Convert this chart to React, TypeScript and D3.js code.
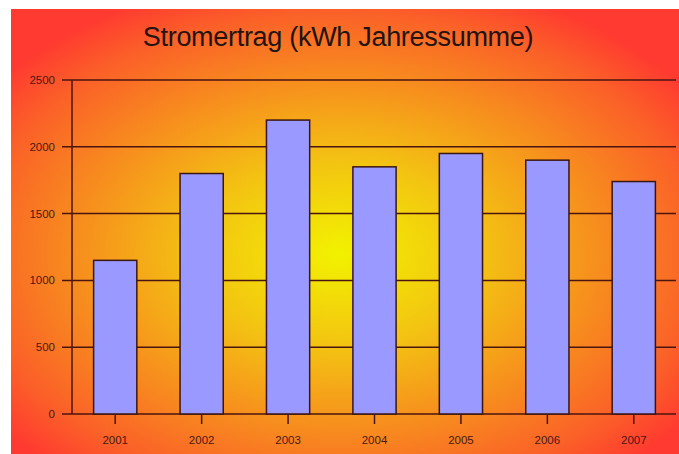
import React from "react";
import * as d3 from "d3";

const years = ["2001", "2002", "2003", "2004", "2005", "2006", "2007"];
const values = [1150, 1800, 2200, 1850, 1950, 1900, 1740];
const yTicks = [0, 500, 1000, 1500, 2000, 2500];
const title = "Stromertrag (kWh Jahressumme)";

export default function App() {
  const W = 679, H = 454;
  const x = d3.scaleBand<string>().domain(years).range([72, 677]).paddingInner(0.5).paddingOuter(0.25);
  const y = d3.scaleLinear().domain([0, 2500]).range([414, 80]);
  const axisCol = "#4a1410";
  const textCol = "#4a1812";
  return (
    <svg width={W} height={H} style={{ position: "absolute", left: 0, top: 0 }}>
      <defs>
        <radialGradient id="bg" cx="0.49" cy="0.55" r="0.64" fx="0.49" fy="0.55">
          <stop offset="0" stopColor="#f2f200" />
          <stop offset="0.32" stopColor="#f3c412" />
          <stop offset="0.62" stopColor="#f78c1e" />
          <stop offset="0.85" stopColor="#fb6028" />
          <stop offset="1" stopColor="#ff3a30" />
        </radialGradient>
      </defs>
      <rect x={0} y={0} width={W} height={H} fill="#fff" />
      <rect x={11} y={9} width={W - 11} height={H - 9} fill="url(#bg)" />
      <text x={338} y={46} textAnchor="middle" fontFamily="Liberation Sans, Arial, sans-serif" fontSize={27} fill="#221410" style={{ letterSpacing: "-0.3px" }}>{title}</text>
      {yTicks.map((t) => (
        <g key={t}>
          <line x1={62} x2={676} y1={y(t)} y2={y(t)} stroke={axisCol} strokeWidth={1.5} />
          <text x={55} y={y(t) + 4} textAnchor="end" fontFamily="Liberation Sans, Arial, sans-serif" fontSize={11.5} fill={textCol}>{t}</text>
        </g>
      ))}
      <line x1={72} x2={72} y1={y(2500)} y2={y(0)} stroke={axisCol} strokeWidth={1.5} />
      {years.map((yr, i) => (
        <g key={yr}>
          <rect x={x(yr)} y={y(values[i])} width={x.bandwidth()} height={y(0) - y(values[i])} fill="#9999ff" stroke="#3a1612" strokeWidth={1.5} />
          <line x1={x(yr)! + x.bandwidth() / 2} x2={x(yr)! + x.bandwidth() / 2} y1={y(0)} y2={y(0) + 10} stroke={axisCol} strokeWidth={1.5} />
          <text x={x(yr)! + x.bandwidth() / 2} y={444} textAnchor="middle" fontFamily="Liberation Sans, Arial, sans-serif" fontSize={11.5} fill={textCol}>{yr}</text>
        </g>
      ))}
    </svg>
  );
}
